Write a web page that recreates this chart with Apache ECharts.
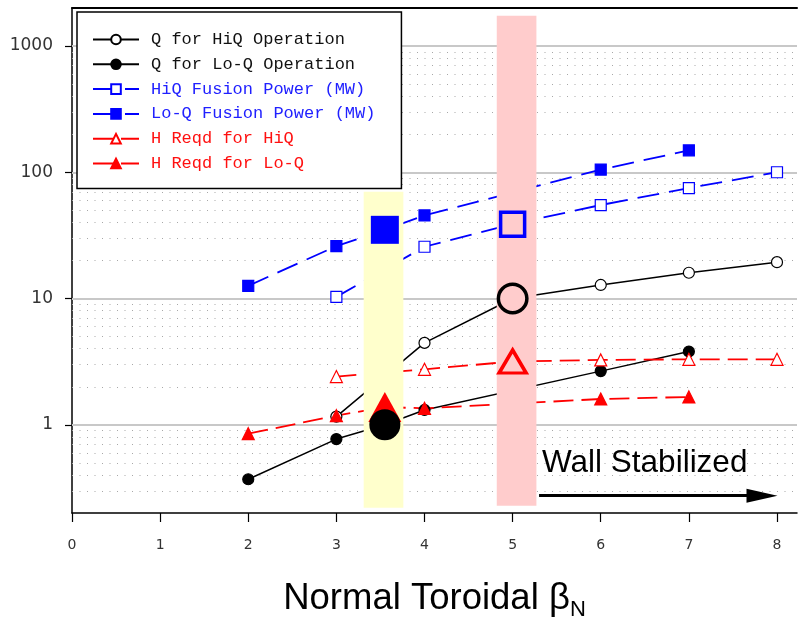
<!DOCTYPE html>
<html>
<head>
<meta charset="utf-8">
<script src="https://cdn.jsdelivr.net/npm/echarts@6/dist/echarts.min.js"></script>
<style>
  html, body { margin: 0; padding: 0; background: #fff; }
  #chartDom { width: 799px; height: 621px; }
</style>
</head>
<body>
<div id="chartDom"></div>
<script>
// tick labels
const xTicks = [0, 1, 2, 3, 4, 5, 6, 7, 8];
const yTicks = [1, 10, 100, 1000];
const yMinor = [0.3, 0.4, 0.5, 0.6, 0.7, 0.8, 0.9,
  2, 3, 4, 5, 6, 7, 8, 9,
  20, 30, 40, 50, 60, 70, 80, 90,
  200, 300, 400, 500, 600, 700, 800, 900];

// Lo-Q cases (index 2 is the highlighted design point)
const loQBeta = [2, 3, 3.55, 4, 6, 7];
const qLoQ = [0.37, 0.77, 1.0, 1.31, 2.66, 3.8];
const powerLoQ = [12.6, 26, 35, 45.5, 105, 149];
const hReqLoQ = [0.85, 1.18, 1.38, 1.35, 1.6, 1.66];
const loQPick = 2;

// Hi-Q cases (index 2 is the highlighted design point)
const hiQBeta = [3, 4, 5, 6, 7, 8];
const qHiQ = [1.16, 4.45, 10, 12.8, 16, 19.4];
const powerHiQ = [10.3, 25.7, 38.8, 55, 75, 100];
const hReqHiQ = [2.41, 2.75, 3.17, 3.26, 3.3, 3.3];
const hiQPick = 2;

// shaded bands and wall-stabilized arrow
const yellowBandX = [3.31, 3.76];
const yellowBandY = [0.22, 70];
const pinkBandX = [4.82, 5.27];
const pinkBandY = [0.228, 1740];
const wallArrowX = [5.3, 7.83];
const wallArrowY = 0.274;

const names = [
  'Q for HiQ Operation',
  'Q for Lo-Q Operation',
  'HiQ Fusion Power (MW)',
  'Lo-Q Fusion Power (MW)',
  'H Reqd for HiQ',
  'H Reqd for Lo-Q'
];
const BLACK = '#000', BLUE = '#0000ff', RED = '#ff0000';

function mkLine(name, xs, ys, pick, color, symbol, filled, dash) {
  return {
    name: name,
    type: 'line',
    z: 2,
    symbol: symbol,
    symbolSize: symbol === 'triangle' ? 12 : 11,
    showSymbol: true,
    data: xs.map((x, i) => i === pick ? { value: [x, ys[i]], symbol: 'none' } : [x, ys[i]]),
    lineStyle: { color: color, width: dash ? 1.8 : 1.5, type: dash || 'solid' },
    itemStyle: { color: filled ? color : '#fff', borderColor: color, borderWidth: 1.2 },
    emphasis: { disabled: true },
    animation: false
  };
}

function mkBig(x, y, color, symbol, size, filled, z) {
  return {
    type: 'scatter',
    z: z,
    silent: true,
    symbol: symbol,
    symbolSize: size,
    data: [[x, y]],
    itemStyle: filled
      ? { color: color, borderWidth: 0, opacity: 1 }
      : { color: 'rgba(0,0,0,0)', borderColor: color, borderWidth: 3.5, opacity: 1 },
    emphasis: { disabled: true },
    animation: false
  };
}

const chart = echarts.init(document.getElementById('chartDom'));

chart.setOption({
  backgroundColor: '#fff',
  animation: false,
  grid: { left: 72, right: 2, top: 8, bottom: 108, outerBoundsMode: 'none' },
  legend: {
    data: names.map((n, i) => ({
      name: n,
      textStyle: { color: i < 2 ? '#111' : (i < 4 ? '#2020ff' : '#ff1010') }
    })),
    orient: 'vertical',
    left: 77,
    top: 12,
    z: 6,
    itemWidth: 46,
    itemHeight: 12,
    itemGap: 7.8,
    padding: [19, 26, 16.5, 15],
    backgroundColor: '#fff',
    borderColor: '#000',
    borderWidth: 1.5,
    selectedMode: false,
    textStyle: { fontFamily: 'Liberation Mono', fontSize: 17, lineHeight: 17, padding: [0, 0, 0, 7] }
  },
  xAxis: [{
    type: 'value',
    min: 0,
    max: 8.227,
    interval: 1,
    axisLine: { lineStyle: { color: '#000', width: 1.5 } },
    axisTick: { customValues: xTicks, length: 9, lineStyle: { color: '#000', width: 1.2 } },
    axisLabel: {
      customValues: xTicks,
      margin: 25,
      color: '#333',
      fontFamily: 'DejaVu Sans',
      fontSize: 14,
      formatter: v => String(Math.round(v))
    },
    splitLine: { show: false },
    name: '{m|Normal Toroidal β}{s|N}',
    nameLocation: 'middle',
    nameGap: 64,
    nameTextStyle: {
      rich: {
        m: { fontFamily: 'Liberation Sans', fontSize: 36.5, color: '#000', lineHeight: 44 },
        s: { fontFamily: 'Liberation Sans', fontSize: 22, color: '#000', lineHeight: 22, verticalAlign: 'bottom' }
      }
    }
  }, {
    type: 'value',
    position: 'top',
    min: 0,
    max: 8.227,
    axisLine: { show: true, lineStyle: { color: '#000', width: 2 } },
    axisTick: { show: false },
    axisLabel: { show: false },
    splitLine: { show: false }
  }],
  yAxis: {
    type: 'log',
    logBase: 10,
    min: 0.2,
    max: 2000,
    axisLine: { show: true, lineStyle: { color: '#000', width: 1.5 } },
    axisTick: { show: true, customValues: yTicks, length: 7, lineStyle: { color: '#000', width: 1.2 } },
    axisLabel: {
      customValues: yTicks,
      margin: 19,
      color: '#333',
      fontFamily: 'DejaVu Sans',
      fontSize: 17,
      formatter: v => String(v)
    },
    splitLine: { show: false },
    minorSplitLine: { show: false }
  },
  graphic: [{
    type: 'text',
    left: 542,
    top: 447,
    z: 10,
    style: { text: 'Wall Stabilized', font: '31.5px "Liberation Sans"', fill: '#000' }
  }],
  series: [
    // gridlines
    {
      type: 'line',
      z: 1,
      silent: true,
      data: [],
      markLine: {
        z: 1,
        silent: true,
        symbol: ['none', 'none'],
        label: { show: false },
        animation: false,
        data: yTicks.map(v => ({ yAxis: v, lineStyle: { color: '#c8c8c8', width: 2, type: 'solid' } }))
          .concat(yMinor.map(v => ({ yAxis: v, lineStyle: { color: '#a8a8a8', width: 1, type: [1, 6.5] } })))
      }
    },
    mkLine(names[0], hiQBeta, qHiQ, hiQPick, BLACK, 'circle', false, null),
    mkLine(names[1], loQBeta, qLoQ, loQPick, BLACK, 'circle', true, null),
    mkLine(names[2], hiQBeta, powerHiQ, hiQPick, BLUE, 'rect', false, [22, 10]),
    mkLine(names[3], loQBeta, powerLoQ, loQPick, BLUE, 'rect', true, [22, 10]),
    mkLine(names[4], hiQBeta, hReqHiQ, hiQPick, RED, 'triangle', false, [20, 8]),
    mkLine(names[5], loQBeta, hReqLoQ, loQPick, RED, 'triangle', true, [20, 8]),
    // bands and arrow
    {
      type: 'line',
      z: 3,
      silent: true,
      data: [],
      markArea: {
        z: 3,
        silent: true,
        animation: false,
        data: [
          [{ xAxis: yellowBandX[0], yAxis: yellowBandY[0], itemStyle: { color: '#ffffcc', opacity: 1 } },
           { xAxis: yellowBandX[1], yAxis: yellowBandY[1] }],
          [{ xAxis: pinkBandX[0], yAxis: pinkBandY[0], itemStyle: { color: '#ffcccc', opacity: 1 } },
           { xAxis: pinkBandX[1], yAxis: pinkBandY[1] }]
        ]
      },
      markLine: {
        z: 5,
        silent: true,
        animation: false,
        symbol: ['none', 'path://M7,0L14,31L0,31Z'],
        symbolKeepAspect: true,
        symbolSize: 31,
        label: { show: false },
        lineStyle: { color: '#000', width: 3, type: 'solid' },
        itemStyle: { color: '#000' },
        data: [[{ coord: [wallArrowX[0], wallArrowY] }, { coord: [wallArrowX[1], wallArrowY] }]]
      }
    },
    // highlighted design points
    mkBig(loQBeta[loQPick], hReqLoQ[loQPick], RED, 'triangle', [33, 30], true, 4),
    mkBig(loQBeta[loQPick], qLoQ[loQPick], BLACK, 'circle', 31, true, 5),
    mkBig(loQBeta[loQPick], powerLoQ[loQPick], BLUE, 'rect', 28, true, 5),
    mkBig(hiQBeta[hiQPick], qHiQ[hiQPick], BLACK, 'circle', 28.5, false, 5),
    mkBig(hiQBeta[hiQPick], powerHiQ[hiQPick], BLUE, 'rect', 24, false, 5),
    mkBig(hiQBeta[hiQPick], hReqHiQ[hiQPick], RED, 'triangle', [27, 23], false, 5)
  ]
});
</script>
</body>
</html>
